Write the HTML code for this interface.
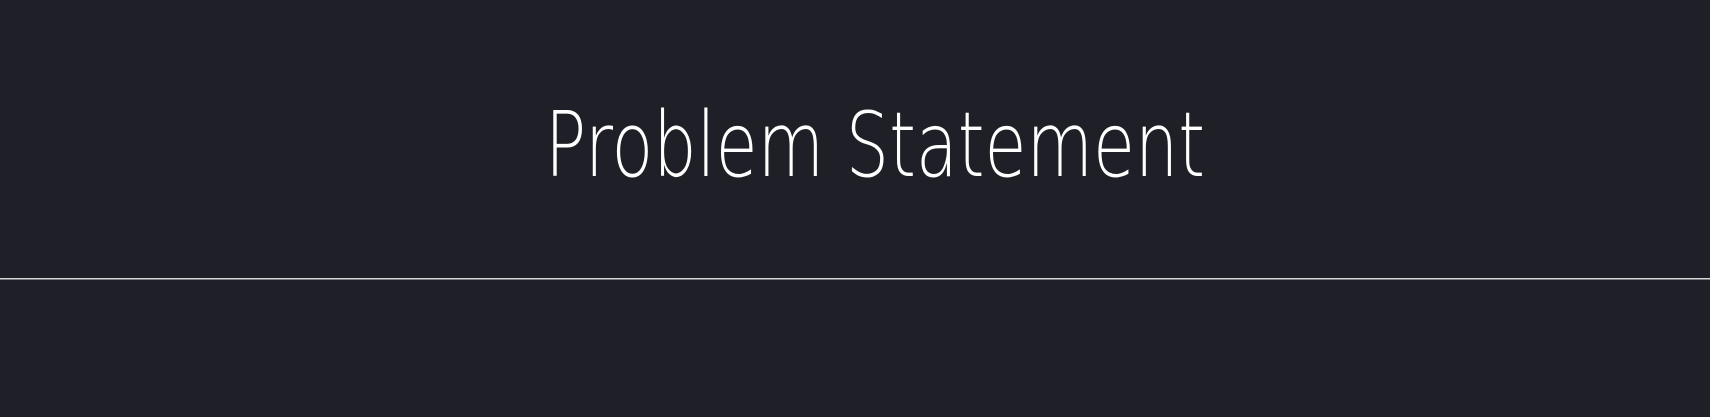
<!DOCTYPE html>
<html>
<head>
<meta charset="utf-8">
<style>
  html, body { margin: 0; padding: 0; }
  body { width: 1710px; height: 417px; background: #1f2027; overflow: hidden; }
  svg { display: block; }
</style>
</head>
<body>
<svg width="1710" height="417" viewBox="0 0 1710 417">
  <rect x="0" y="0" width="1710" height="417" fill="#1f2027"/>
  <text x="875" y="176" text-anchor="middle" fill="#ffffff"
        font-family="'DejaVu Sans', 'Liberation Sans', sans-serif" font-weight="200" font-size="90"
        textLength="660" lengthAdjust="spacingAndGlyphs"
       >Problem Statement</text>
  <rect x="0" y="278" width="1710" height="1.5" fill="#d8d8d8"/>
</svg>
</body>
</html>
